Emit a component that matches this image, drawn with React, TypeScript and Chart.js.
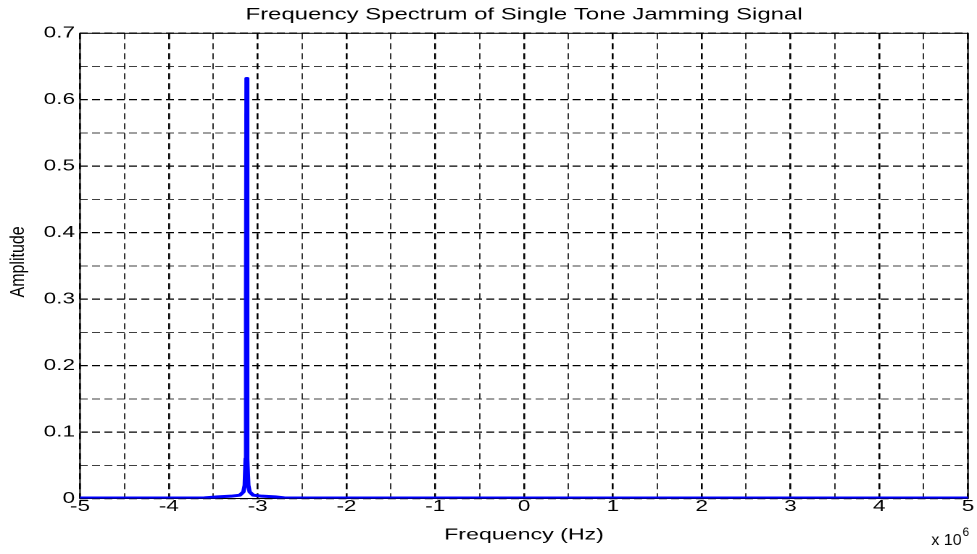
import React, { useEffect, useRef } from "react";
import { Chart, registerables } from "chart.js";

Chart.register(...registerables);

// ---- data ----
const chartTitle = "Frequency Spectrum of Single Tone Jamming Signal";
const xAxisLabel = "Frequency (Hz)";
const yAxisLabel = "Amplitude";
const xExponentLabel = "x 10";
const xExponent = "6";

const freqHz = [
  -5e6, -4.2e6, -3.6e6, -3.45e6, -3.3e6, -3.2e6, -3.16e6, -3.145e6, -3.135e6,
  -3.13e6, -3.125e6, -3.12e6, -3.115e6, -3.105e6, -3.09e6, -3.05e6, -2.95e6,
  -2.8e6, -2.7e6, -1e6, 1e6, 5e6,
];
const amplitude = [
  0.0008, 0.0008, 0.001, 0.0025, 0.0035, 0.005, 0.01, 0.02, 0.06, 0.3, 0.632,
  0.3, 0.06, 0.02, 0.01, 0.005, 0.0035, 0.0025, 0.001, 0.0008, 0.0008, 0.0008,
];

const xMin = -5e6;
const xMax = 5e6;
const xStep = 0.5e6;
const yMin = 0;
const yMax = 0.7;
const yStep = 0.05;

// horizontal stretch of the reference picture
const STRETCH = 977 / 674;
const FONT = "'Liberation Sans', Arial, Helvetica, sans-serif";

const isMajorX = (v: number) => Math.abs(v / 1e6 - Math.round(v / 1e6)) < 1e-9;
const isMajorY = (v: number) => Math.abs(v * 10 - Math.round(v * 10)) < 1e-6;

export default function App() {
  const ref = useRef<HTMLCanvasElement | null>(null);

  useEffect(() => {
    if (!ref.current) return;
    const points = freqHz.map((f, i) => ({ x: f, y: amplitude[i] }));

    const framePlugin = {
      id: "frame",
      beforeDatasetsDraw(chart: any) {
        const { ctx, chartArea } = chart;
        ctx.save();
        ctx.setLineDash([]);
        ctx.strokeStyle = "#000";
        ctx.lineWidth = 1;
        ctx.strokeRect(
          chartArea.left,
          chartArea.top,
          chartArea.right - chartArea.left,
          chartArea.bottom - chartArea.top
        );
        ctx.restore();
      },
      afterDraw(chart: any) {
        const { ctx, chartArea } = chart;
        ctx.save();
        ctx.fillStyle = "#000";
        // title
        ctx.font = `16.5px ${FONT}`;
        ctx.textAlign = "center";
        ctx.textBaseline = "alphabetic";
        ctx.fillText(chartTitle, (chartArea.left + chartArea.right) / 2, 19.5);
        ctx.restore();

        // y axis label (rotated)
        ctx.save();
        ctx.fillStyle = "#000";
        ctx.translate(12.6, (chartArea.top + chartArea.bottom) / 2 - 4);
        ctx.scale(0.85, 1);
        ctx.rotate(-Math.PI / 2);
        ctx.font = `16px ${FONT}`;
        ctx.textAlign = "center";
        ctx.textBaseline = "middle";
        ctx.fillText(yAxisLabel, 0, 0);
        ctx.restore();

        // exponent label (not stretched in the reference)
        ctx.save();
        ctx.fillStyle = "#000";
        ctx.translate(642.5, 545);
        ctx.scale(1 / STRETCH, 1);
        ctx.textAlign = "left";
        ctx.textBaseline = "alphabetic";
        ctx.font = `16px ${FONT}`;
        ctx.fillText(xExponentLabel, 0, 0);
        const w = ctx.measureText(xExponentLabel).width;
        ctx.font = `12px ${FONT}`;
        ctx.fillText(xExponent, w + 1, -9);
        ctx.restore();
      },
    };

    const chart = new Chart(ref.current, {
      type: "line",
      data: {
        datasets: [
          {
            data: points,
            borderColor: "#0000ff",
            backgroundColor: "#0000ff",
            borderWidth: 3,
            pointRadius: 0,
            tension: 0,
            borderJoinStyle: "round",
            borderCapStyle: "round",
          },
        ],
      },
      options: {
        responsive: false,
        animation: false,
        devicePixelRatio: 2,
        layout: { padding: { left: 0, right: 6.2, top: 33.3, bottom: 0 } },
        plugins: {
          legend: { display: false },
          tooltip: { enabled: false },
          title: { display: false },
        },
        scales: {
          x: {
            type: "linear",
            min: xMin,
            max: xMax,
            afterFit: (s: any) => {
              s.height = 55.5;
            },
            afterBuildTicks: (s: any) => {
              const t = [];
              for (let v = xMin; v <= xMax + 1; v += xStep) t.push({ value: v });
              s.ticks = t;
            },
            ticks: {
              autoSkip: false,
              maxRotation: 0,
              padding: -1,
              color: "#000",
              font: { family: FONT, size: 15.5 },
              callback: (v: any) => {
                const n = Number(v);
                return isMajorX(n) ? String(Math.round(n / 1e6)) : "";
              },
            },
            grid: {
              drawTicks: false,
              color: "#000",
              lineWidth: (c: any) =>
                c.tick && isMajorX(c.tick.value) ? 1.3 : 0.8,
            },
            border: { display: false, dash: [6, 4] },
            title: {
              display: true,
              text: xAxisLabel,
              color: "#000",
              font: { family: FONT, size: 16 },
              padding: { top: 0, bottom: 9.4 },
            },
          },
          y: {
            type: "linear",
            min: yMin,
            max: yMax,
            afterFit: (s: any) => {
              s.width = 55.2;
            },
            afterBuildTicks: (s: any) => {
              const t = [];
              for (let i = 0; i <= Math.round((yMax - yMin) / yStep); i++)
                t.push({ value: yMin + i * yStep });
              s.ticks = t;
            },
            ticks: {
              autoSkip: false,
              padding: 3.5,
              color: "#000",
              font: { family: FONT, size: 15.5 },
              callback: (v: any) => {
                const n = Number(v);
                return isMajorY(n) ? String(Math.round(n * 10) / 10) : "";
              },
            },
            grid: {
              drawTicks: false,
              color: "#000",
              lineWidth: (c: any) =>
                c.tick && isMajorY(c.tick.value) ? 1.3 : 0.8,
            },
            border: { display: false, dash: [5.5, 3] },
            title: { display: false },
          },
        },
      },
      plugins: [framePlugin],
    } as any);

    return () => chart.destroy();
  }, []);

  return (
    <div style={{ position: "absolute", left: 0, top: 0, width: 977, height: 554, background: "#fff" }}>
      <canvas
        ref={ref}
        width={674}
        height={554}
        style={{ width: "977px", height: "554px", display: "block" }}
      />
    </div>
  );
}
